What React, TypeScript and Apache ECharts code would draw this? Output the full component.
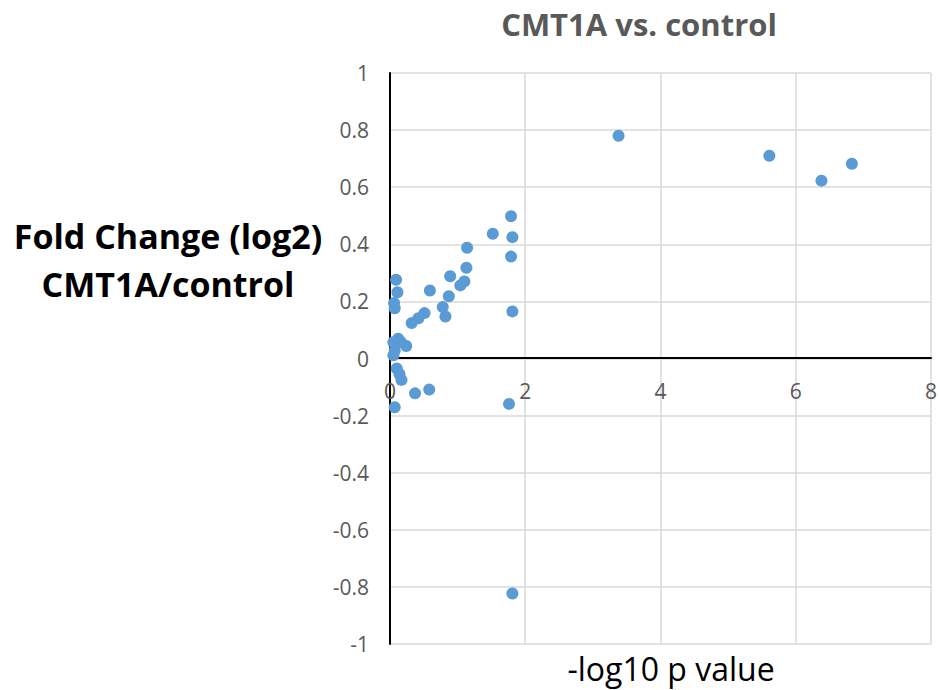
import React, { useEffect, useRef } from "react";
import * as echarts from "echarts";

const xValues: number[] = [
  3.38, 5.61, 6.38, 6.83, 1.79, 1.52, 1.81, 1.79, 1.14, 1.13, 1.1, 1.04, 0.89,
  0.87, 0.59, 0.78, 0.82, 0.51, 0.42, 0.32, 1.81, 0.09, 0.11, 0.06, 0.07, 0.12,
  0.05, 0.24, 0.07, 0.05, 0.1, 0.14, 0.17, 0.37, 0.58, 0.07, 1.76, 1.81, 0.16,
];
const yValues: number[] = [
  0.78, 0.71, 0.623, 0.682, 0.498, 0.437, 0.425, 0.357, 0.388, 0.318, 0.27,
  0.256, 0.288, 0.218, 0.238, 0.18, 0.147, 0.159, 0.141, 0.124, 0.165, 0.276,
  0.232, 0.194, 0.176, 0.069, 0.057, 0.044, 0.028, 0.011, -0.035, -0.054,
  -0.075, -0.122, -0.109, -0.171, -0.159, -0.823, 0.058,
];

const titleText = "CMT1A vs. control";
const yNameLines = ["Fold Change (log2)", "CMT1A/control"];
const xNameText = "-log10 p value";

const FONT = "'Open Sans', Lato, sans-serif";

export default function App() {
  const ref = useRef<HTMLDivElement>(null);
  useEffect(() => {
    if (!ref.current) return;
    const chart = echarts.init(ref.current, undefined, { renderer: "svg" });
    const data = xValues.map((x, i) => [x, yValues[i]]);
    chart.setOption({
      animation: false,
      backgroundColor: "#ffffff",
      textStyle: { fontFamily: FONT },
      grid: { left: 390, right: 5, top: 73, bottom: 46, containLabel: false },
      xAxis: {
        type: "value",
        min: 0,
        max: 8,
        interval: 2,
        offset: -286,
        axisLine: { show: true, onZero: false, lineStyle: { color: "#000", width: 2 } },
        axisTick: { show: false },
        axisLabel: { color: "#595959", fontSize: 21, margin: 22, fontFamily: FONT },
        splitLine: { show: true, lineStyle: { color: "#d9d9d9", width: 1.5 } },
      },
      yAxis: {
        type: "value",
        min: -1,
        max: 1,
        interval: 0.2,
        axisLine: { show: true, lineStyle: { color: "#000", width: 2 } },
        axisTick: { show: false },
        axisLabel: {
          color: "#595959",
          fontSize: 21,
          margin: 21,
          fontFamily: FONT,
          formatter: (v: number) => String(Math.round(v * 10) / 10),
        },
        splitLine: { show: true, lineStyle: { color: "#d9d9d9", width: 1.5 } },
      },
      series: [
        {
          type: "scatter",
          data,
          symbolSize: 12,
          itemStyle: { color: "#5b9bd5", opacity: 1 },
        },
      ],
      graphic: [
        {
          type: "text",
          x: 639,
          y: 24,
          style: {
            text: titleText,
            fill: "#595959",
            font: `bold 31px ${FONT}`,
            align: "center",
            verticalAlign: "middle",
          },
        },
        {
          type: "text",
          x: 168,
          y: 236,
          style: {
            text: yNameLines[0],
            fill: "#000",
            font: `bold 34px ${FONT}`,
            align: "center",
            verticalAlign: "middle",
          },
        },
        {
          type: "text",
          x: 168,
          y: 284,
          style: {
            text: yNameLines[1],
            fill: "#000",
            font: `bold 34px ${FONT}`,
            align: "center",
            verticalAlign: "middle",
          },
        },
        {
          type: "text",
          x: 671,
          y: 668,
          style: {
            text: xNameText,
            fill: "#000",
            font: `32px ${FONT}`,
            align: "center",
            verticalAlign: "middle",
          },
        },
      ],
    });
    return () => chart.dispose();
  }, []);
  return (
    <div
      ref={ref}
      style={{ position: "fixed", left: 0, top: 0, width: 940, height: 690 }}
    />
  );
}
